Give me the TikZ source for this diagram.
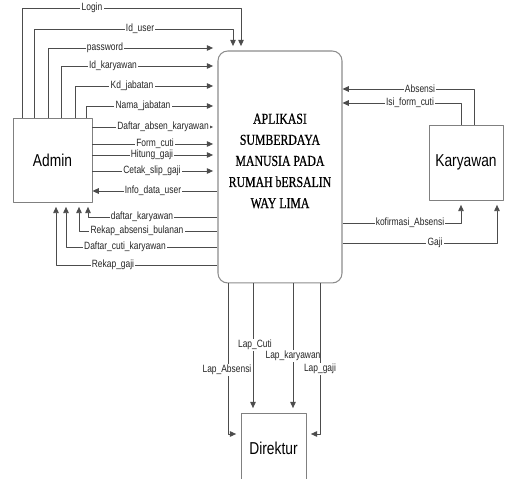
\documentclass[tikz,border=0pt]{standalone}
\usepackage{fontspec}
\setmainfont{Liberation Sans}
\newfontfamily\lblfont[FakeStretch=0.8]{Liberation Sans}
\newfontfamily\serfont[FakeStretch=0.78,FakeBold=0.6]{Liberation Serif}
\usetikzlibrary{arrows.meta,positioning}

\begin{document}
\begin{tikzpicture}[x=0.02cm, y=-0.02cm, line join=round,
    flow/.style={draw=black!70, line width=0.5pt, -{Triangle[length=3.6pt,width=3.2pt]}, shorten >=2.5pt},
    lbl/.style={font=\lblfont\fontsize{6}{7}\selectfont, text=black!85, fill=white, inner sep=0.7pt},
    ent/.style={draw=black!50, line width=0.55pt, font=\lblfont\fontsize{9.8}{11}\selectfont, inner sep=0pt}]
    \useasboundingbox (0,0) rectangle (505,479);

    \node[draw=black!45, line width=0.6pt, rounded corners=5.5pt, minimum width=2.48cm, minimum height=4.64cm] (app) at (280,167) {};
    \node[font=\serfont\fontsize{8.6}{12}\selectfont, align=center] (apptxt) at (280,161) {APLIKASI\\SUMBERDAYA\\MANUSIA PADA\\RUMAH bERSALIN\\WAY LIMA};
    \node[ent, minimum width=1.58cm, minimum height=1.68cm] (admin) at (52.5,160) {Admin};
    \node[ent, minimum width=1.48cm, minimum height=1.5cm] (kary) at (466,162.5) {Karyawan};
    \node[ent, minimum width=1.3cm, minimum height=1.4cm] (dir) at (273.5,448) {Direktur};

    % admin -> aplikasi (over the top)
    \draw[flow] (admin.north -| 22,0) |- (241,8) -- (app.north -| 241,0);
    \node[lbl] (lLogin) at (92,8) {Login};
    \draw[flow] (admin.north -| 34,0) |- (233,29) -- (app.north -| 233,0);
    \node[lbl] (lIduser) at (140,29) {Id\_user};
    \foreach \x/\y/\txt/\lx in {48/48/password/105, 61/66/Id\_karyawan/113,
        75/86/Kd\_jabatan/132, 86/106/Nama\_jabatan/143}
    {
        \draw[flow] (admin.north -| \x,0) |- (app.west |- 0,\y);
        \node[lbl] (l\y) at (\lx,\y) {\txt};
    }
    \foreach \y/\txt/\lx in {127/Daftar\_absen\_karyawan/163, 144/Form\_cuti/155,
        155/Hitung\_gaji/152, 171/Cetak\_slip\_gaji/152}
    {
        \draw[flow] (admin.east |- 0,\y) -- (app.west |- 0,\y);
        \node[lbl] (l\y) at (\lx,\y) {\txt};
    }

    % aplikasi -> admin
    \draw[flow, shorten >=0pt] (app.west |- 0,191) -- (admin.east |- 0,191);
    \node[lbl] (lInfo) at (153,191) {Info\_data\_user};
    \foreach \x/\y/\txt/\lx in {88/217/daftar\_karyawan/142, 79/231/Rekap\_absensi\_bulanan/137,
        66/247/Daftar\_cuti\_karyawan/125, 56/265/Rekap\_gaji/113}
    {
        \draw[flow] (app.west |- 0,\y) -| (admin.south -| \x,0);
        \node[lbl] (l\y) at (\lx,\y) {\txt};
    }

    % karyawan
    \draw[flow, shorten >=0pt] (kary.north -| 474,0) |- (app.east |- 0,89);
    \node[lbl] (lAbsensi) at (420,89) {Absensi};
    \draw[flow, shorten >=0pt] (kary.north -| 461,0) |- (app.east |- 0,103);
    \node[lbl] (lIsi) at (410,103) {Isi\_form\_cuti};
    \draw[flow] (app.east |- 0,223) -| (kary.south -| 461,0);
    \node[lbl] (lKonf) at (410,223) {kofirmasi\_Absensi};
    \draw[flow] (app.east |- 0,243) -| (kary.south -| 497,0);
    \node[lbl] (lGaji) at (435,243) {Gaji};

    % direktur
    \draw[flow] (app.south -| 228,0) |- (dir.west |- 0,434);
    \node[lbl] (lLapAbs) at (227,370) {Lap\_Absensi};
    \draw[flow] (app.south -| 253,0) -- (dir.north -| 253,0);
    \node[lbl] (lLapCuti) at (255,345) {Lap\_Cuti};
    \draw[flow] (app.south -| 293,0) -- (dir.north -| 293,0);
    \node[lbl] (lLapKar) at (293,356) {Lap\_karyawan};
    \draw[flow] (app.south -| 320,0) |- (dir.east |- 0,434);
    \node[lbl] (lLapGaji) at (320,369) {Lap\_gaji};
\end{tikzpicture}
\end{document}
